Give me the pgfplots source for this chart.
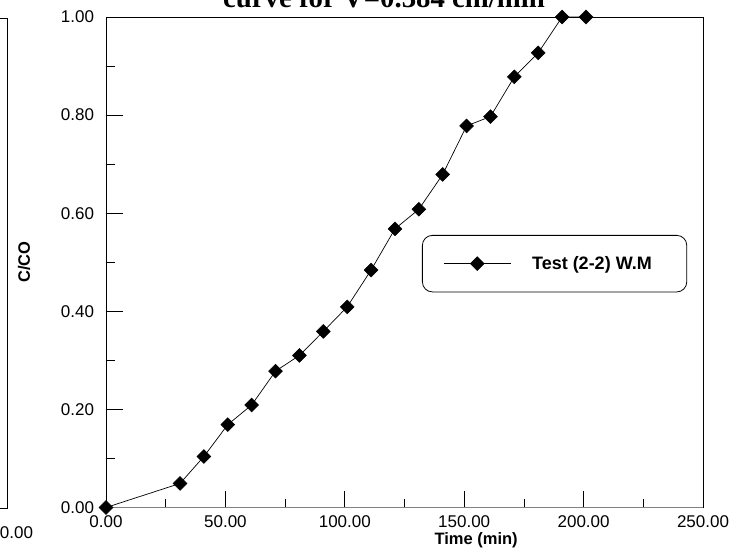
\documentclass[border=0pt]{standalone}
\usepackage{pgfplots}
\pgfplotsset{compat=1.18}
\usepackage{fontspec}
\setmainfont{Liberation Sans}
\newfontfamily\serifb{Liberation Serif}
\begin{document}
\begin{tikzpicture}[x=1pt,y=1pt]
\useasboundingbox (0,0) rectangle (747,554);
\clip (0,0) rectangle (747,554);
% remnant of neighbouring chart (cropped)
\draw[line width=0.9pt] (0,536) -- (7,536) -- (7,46) -- (0,46);
\node[font=\fontsize{17}{20}\selectfont] at (7,21) {250.00};
% title (partly cropped)
\node[font=\serifb\bfseries\fontsize{28.8}{30}\selectfont, anchor=base] at (384,546) {curve for V=0.384 cm/min};
\begin{axis}[
  at={(106pt,46.5pt)}, anchor=south west,
  scale only axis, width=597pt, height=490.5pt,
  xmin=0, xmax=250, ymin=0, ymax=1,
  xtick={0,50,100,150,200,250},
  ytick={0,0.2,0.4,0.6,0.8,1.0},
  minor xtick={25,75,125,175,225},
  minor ytick={0.1,0.3,0.5,0.7,0.9},
  tick align=inside, xtick pos=bottom, ytick pos=left,
  major tick length=17pt, minor tick length=9pt,
  every tick/.style={black, line width=0.8pt},
  axis line style={line width=0.9pt},
  ticklabel style={font=\fontsize{17}{20}\selectfont},
  xticklabel style={yshift=-5pt},
  yticklabel style={xshift=-8.5pt},
  /pgf/number format/.cd, fixed, fixed zerofill, precision=2, 1000 sep={}, assume math mode=true,
  /pgfplots/.cd,
  xlabel={Time (min)}, ylabel={C/CO},
  label style={font=\bfseries\fontsize{16.5}{19}\selectfont},
  xlabel style={at={(axis description cs:0.62,-0.0662)}, anchor=center},
  ylabel style={at={(axis description cs:-0.1374,0.5)}, anchor=center},
  legend style={at={(axis description cs:0.5293,0.5556)}, anchor=north west,
    draw=black, line width=0.8pt, rounded corners=10pt,
    inner xsep=21pt, inner ysep=19pt,
    font=\bfseries\fontsize{18}{21}\selectfont,
    nodes={inner sep=2pt}},
  legend image code/.code={\draw[#1, mark repeat=2, mark phase=2] plot coordinates {(0pt,0pt) (33.5pt,0pt) (67pt,0pt)};},
  legend columns=1,
  clip=false,
]
\draw[gray, line width=1.6pt] (rel axis cs:0,0) -- (rel axis cs:1,0);
\addplot[black, line width=0.7pt, mark=square*, mark size=4.9pt, mark options={rotate=45, solid, line width=0.5pt}]
coordinates {
(0,0) (31,0.049) (41,0.104) (51,0.169) (61,0.209) (71,0.278) (81,0.310)
(91,0.359) (101,0.409) (111,0.484) (121,0.568) (131,0.608) (141,0.679)
(151,0.778) (161,0.797) (171,0.878) (181,0.927) (191,1.0) (201,1.0)
};
\addlegendentry{\kern19pt Test (2-2) W.M\kern12pt}
\end{axis}
\end{tikzpicture}
\end{document}
